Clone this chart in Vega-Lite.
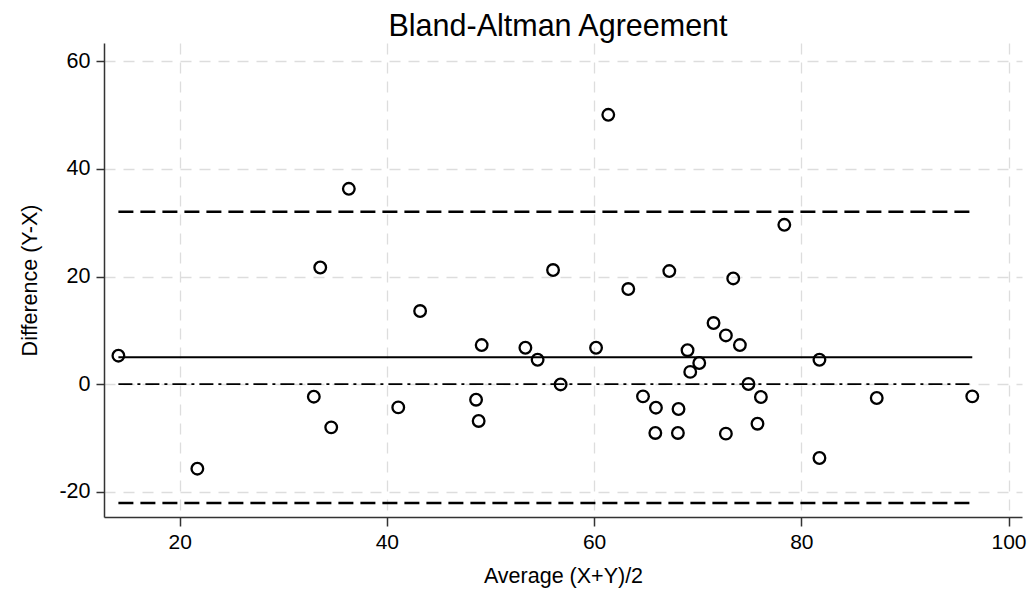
{
  "$schema": "https://vega.github.io/schema/vega-lite/v6.json",
  "width": 918,
  "height": 474,
  "autosize": {"type": "none"},
  "padding": {"left": 104, "top": 43, "right": 7, "bottom": 74},
  "background": "white",
  "config": {
    "view": {"stroke": null},
    "font": "Liberation Sans",
    "axis": {
      "labelFont": "Liberation Sans",
      "titleFont": "Liberation Sans",
      "labelColor": "black",
      "titleColor": "black",
      "titleFontWeight": "normal",
      "domainColor": "#333333",
      "domainWidth": 1.5,
      "tickColor": "#333333",
      "tickWidth": 1.5,
      "gridColor": "#dddddd",
      "gridWidth": 1.3,
      "gridDash": [11, 8]
    }
  },
  "title": {
    "text": "Bland-Altman Agreement",
    "fontSize": 30.5,
    "fontWeight": "normal",
    "font": "Liberation Sans",
    "color": "black",
    "anchor": "middle",
    "frame": "group",
    "offset": 1,
    "dx": -5
  },
  "datasets": {
    "points": [
      {"avg": 14.09, "diff": 5.28},
      {"avg": 21.71, "diff": -15.72},
      {"avg": 32.95, "diff": -2.34},
      {"avg": 33.57, "diff": 21.68},
      {"avg": 34.63, "diff": -8.04},
      {"avg": 36.33, "diff": 36.3},
      {"avg": 41.1, "diff": -4.33},
      {"avg": 43.21, "diff": 13.58},
      {"avg": 48.61, "diff": -2.9},
      {"avg": 48.86, "diff": -6.85},
      {"avg": 49.15, "diff": 7.26},
      {"avg": 53.37, "diff": 6.76},
      {"avg": 54.55, "diff": 4.53},
      {"avg": 56.04, "diff": 21.2},
      {"avg": 56.77, "diff": -0.06},
      {"avg": 60.19, "diff": 6.76},
      {"avg": 61.37, "diff": 50.05},
      {"avg": 63.3, "diff": 17.67},
      {"avg": 64.72, "diff": -2.28},
      {"avg": 65.97, "diff": -4.38},
      {"avg": 65.91, "diff": -9.08},
      {"avg": 67.26, "diff": 21.01},
      {"avg": 68.15, "diff": -4.63},
      {"avg": 68.09, "diff": -9.08},
      {"avg": 69.02, "diff": 6.3},
      {"avg": 69.28, "diff": 2.27},
      {"avg": 70.15, "diff": 3.92},
      {"avg": 71.53, "diff": 11.35},
      {"avg": 72.72, "diff": 9.05},
      {"avg": 72.72, "diff": -9.21},
      {"avg": 73.43, "diff": 19.64},
      {"avg": 74.07, "diff": 7.26},
      {"avg": 74.9, "diff": 0.02},
      {"avg": 75.77, "diff": -7.36},
      {"avg": 76.1, "diff": -2.4},
      {"avg": 78.36, "diff": 29.61},
      {"avg": 81.75, "diff": 4.53},
      {"avg": 81.75, "diff": -13.73},
      {"avg": 87.28, "diff": -2.58},
      {"avg": 96.5, "diff": -2.28}
    ],
    "lines": [
      {"kind": "upper", "x0": 14.09, "x1": 96.5, "y": 32.03},
      {"kind": "lower", "x0": 14.09, "x1": 96.5, "y": -22.09},
      {"kind": "mean", "x0": 14.09, "x1": 96.5, "y": 4.97},
      {"kind": "zero", "x0": 14.09, "x1": 96.5, "y": 0}
    ]
  },
  "layer": [
    {
      "data": {"name": "lines"},
      "transform": [{"filter": "datum.kind === 'upper' || datum.kind === 'lower'"}],
      "mark": {"type": "rule", "color": "black", "strokeWidth": 2.5, "strokeDash": [15, 7]},
      "encoding": {
        "x": {"field": "x0", "type": "quantitative"},
        "x2": {"field": "x1"},
        "y": {"field": "y", "type": "quantitative"}
      }
    },
    {
      "data": {"name": "lines"},
      "transform": [{"filter": "datum.kind === 'mean'"}],
      "mark": {"type": "rule", "color": "black", "strokeWidth": 2},
      "encoding": {
        "x": {"field": "x0", "type": "quantitative"},
        "x2": {"field": "x1"},
        "y": {"field": "y", "type": "quantitative"}
      }
    },
    {
      "data": {"name": "lines"},
      "transform": [{"filter": "datum.kind === 'zero'"}],
      "mark": {"type": "rule", "color": "black", "strokeWidth": 1.8, "strokeDash": [14, 5, 3, 5]},
      "encoding": {
        "x": {"field": "x0", "type": "quantitative"},
        "x2": {"field": "x1"},
        "y": {"field": "y", "type": "quantitative"}
      }
    },
    {
      "data": {"name": "points"},
      "mark": {"type": "point", "shape": "circle", "filled": false, "color": "black", "strokeWidth": 2.3, "size": 135, "opacity": 1},
      "encoding": {
        "x": {
          "field": "avg",
          "type": "quantitative",
          "scale": {"domain": [12.7, 101.3], "nice": false, "zero": false},
          "axis": {
            "title": "Average (X+Y)/2",
            "values": [20, 40, 60, 80, 100],
            "labelFontSize": 21,
            "titleFontSize": 21.5,
            "tickSize": 9,
            "labelPadding": 5,
            "titlePadding": 13,
            "grid": true
          }
        },
        "y": {
          "field": "diff",
          "type": "quantitative",
          "scale": {"domain": [-24.7, 63.4], "nice": false, "zero": false},
          "axis": {
            "title": "Difference (Y-X)",
            "values": [-20, 0, 20, 40, 60],
            "labelExpr": "datum.value < 0 ? '-' + abs(datum.value) : '' + datum.value",
            "labelFontSize": 21.5,
            "titleFontSize": 21.5,
            "tickSize": 8,
            "labelPadding": 6,
            "titlePadding": 17,
            "grid": true
          }
        }
      }
    }
  ]
}
